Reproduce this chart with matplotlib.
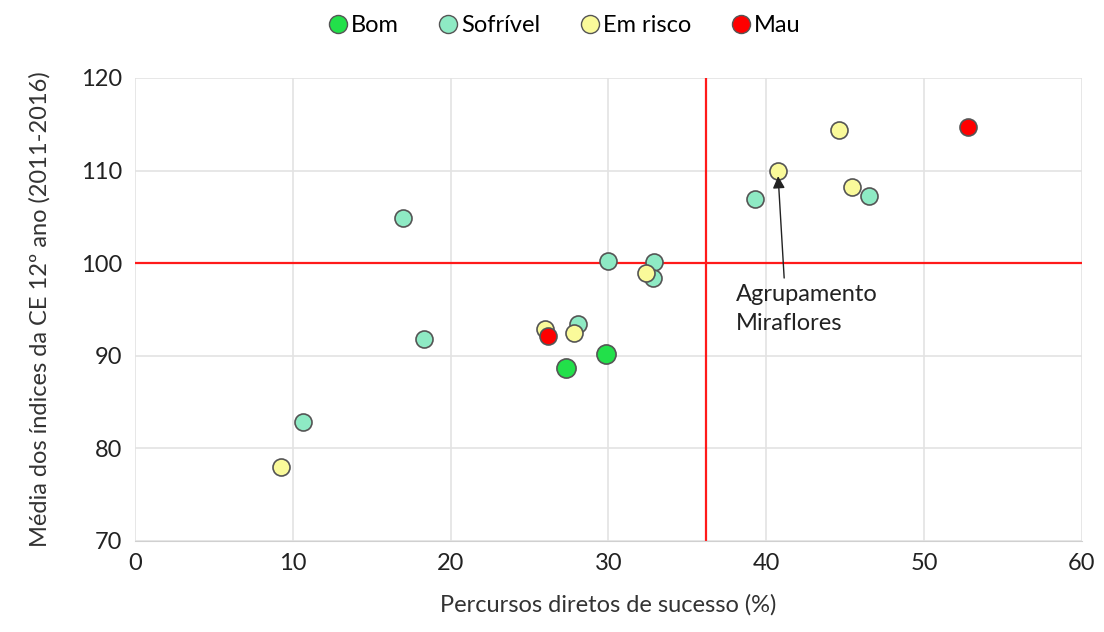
import numpy as np
import matplotlib
matplotlib.use("Agg")
from matplotlib import pyplot as plt
from matplotlib.lines import Line2D

plt.rcParams['font.family'] = ['Lato', 'DejaVu Sans']

# dados
bom_x = [27.3, 29.85]
bom_y = [88.7, 90.2]
sofrivel_x = [10.65, 16.98, 18.3, 28.1, 29.97, 32.9, 32.8, 39.3, 46.5]
sofrivel_y = [82.9, 104.9, 91.8, 93.4, 100.2, 100.1, 98.4, 106.9, 107.3]
risco_x = [9.25, 26.0, 27.8, 32.4, 40.75, 44.6, 45.4]
risco_y = [78.0, 92.9, 92.5, 98.9, 110.0, 114.4, 108.2]
mau_x = [26.2, 52.8]
mau_y = [92.1, 114.7]

corte_x = 36.2
corte_y = 100
miraflores = (40.75, 110.0)

fig = plt.figure(figsize=(11.04, 6.32), dpi=100)
ax = fig.add_axes([0.1223, 0.144, 0.8577, 0.7326])

ax.set_xlim(0, 60)
ax.set_ylim(70, 120)
ax.set_xticks(np.arange(0, 61, 10))
ax.set_yticks(np.arange(70, 121, 10))
ax.grid(True, color="#e3e3e3", linewidth=1.2)
ax.set_axisbelow(True)
for s in ax.spines.values():
    s.set_visible(False)
ax.spines['bottom'].set_visible(True)
ax.spines['bottom'].set_color("#d0d0d0")
ax.tick_params(length=0, labelsize=17, colors="#222222", pad=9)

ax.axvline(corte_x, color="#ff1a1a", linewidth=1.6, zorder=2)
ax.axhline(corte_y, color="#ff1a1a", linewidth=1.6, zorder=2)

ec = "#555555"
ax.scatter(sofrivel_x, sofrivel_y, s=150, c="#8eeac4", edgecolors=ec, linewidths=1.2, zorder=3)
ax.scatter(risco_x, risco_y, s=150, c="#fafa9a", edgecolors=ec, linewidths=1.2, zorder=3)
ax.scatter(mau_x, mau_y, s=150, c="#ff0000", edgecolors=ec, linewidths=1.2, zorder=4)
ax.scatter(bom_x, bom_y, s=190, c="#22e04a", edgecolors=ec, linewidths=1.2, zorder=4)

ax.annotate("Agrupamento\nMiraflores", xy=(miraflores[0], miraflores[1] - 0.6),
            xytext=(38.1, 97.8), fontsize=17, color="#222222", ha="left", va="top",
            linespacing=1.5,
            arrowprops=dict(arrowstyle="-|>", color="#222222", lw=1.0, mutation_scale=18,
                            shrinkA=2, shrinkB=0, relpos=(0.34, 1.0)), zorder=5)

ax.set_xlabel("Percursos diretos de sucesso (%)", fontsize=17, color="#333333", labelpad=14)
ax.set_ylabel("Média dos índices da CE 12º ano (2011-2016)", fontsize=17, color="#333333", labelpad=22)

handles = [Line2D([], [], marker='o', linestyle='', markersize=13, markerfacecolor=c,
                  markeredgecolor=ec, markeredgewidth=1.0)
           for c in ["#22e04a", "#8eeac4", "#fafa9a", "#ff0000"]]
fig.legend(handles, ["Bom", "Sofrível", "Em risco", "Mau"], loc="upper center",
           bbox_to_anchor=(0.51, 1.01), ncol=4, frameon=False, fontsize=17,
           handletextpad=0.05, columnspacing=1.6, handlelength=1.0)

fig.savefig("out.png", dpi=100)
